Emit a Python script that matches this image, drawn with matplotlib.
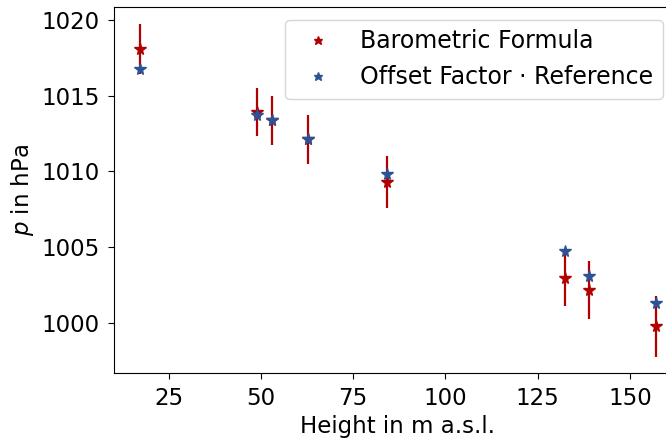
import matplotlib
matplotlib.use("Agg")
import matplotlib.pyplot as plt

# Höhen der Messpunkte (m ü. NN)
height = [17.2, 48.9, 53.0, 62.9, 84.2, 132.5, 138.8, 157.1]
# Druck nach barometrischer Höhenformel und Unsicherheit
p_baro = [1018.07, 1013.9, 1013.38, 1012.11, 1009.3, 1002.97, 1002.18, 999.78]
p_baro_err = [1.65, 1.6, 1.62, 1.62, 1.7, 1.87, 1.92, 2.0]
# Referenzdruck mit Offset-Faktor
p_ref = [1016.75, 1013.72, 1013.36, 1012.11, 1009.83, 1004.77, 1003.12, 1001.3]

red = "#b20000"
blue = "#2b5396"

plt.rcParams["font.size"] = 16.5
plt.rcParams["xtick.major.size"] = 4.5
plt.rcParams["ytick.major.size"] = 4.5
plt.rcParams["xtick.major.pad"] = 5
plt.rcParams["ytick.major.pad"] = 5.5

fig = plt.figure(figsize=(6.66, 4.41), dpi=100)
ax = fig.add_axes([0.171, 0.1535, 0.853, 0.83])

ax.errorbar(height, p_baro, yerr=p_baro_err, fmt="none", ecolor=red, elinewidth=1.6)
ax.plot(height, p_baro, "*", color=red, markersize=8.5, label="Barometric Formula")
ax.plot(height, p_ref, "*", color=blue, markersize=8.5, label="Offset Factor · Reference")

ax.set_xlabel("Height in m a.s.l.")
ax.set_ylabel("$p$ in hPa")
ax.set_yticks([1000, 1005, 1010, 1015, 1020])
ax.set_xticks([25, 50, 75, 100, 125, 150])

ax.legend(loc="upper right", bbox_to_anchor=(663 / 666, 1 - 20 / 441),
          bbox_transform=fig.transFigure, borderaxespad=0, markerscale=0.75,
          fontsize=17)

fig.savefig("out.png", dpi=100)
